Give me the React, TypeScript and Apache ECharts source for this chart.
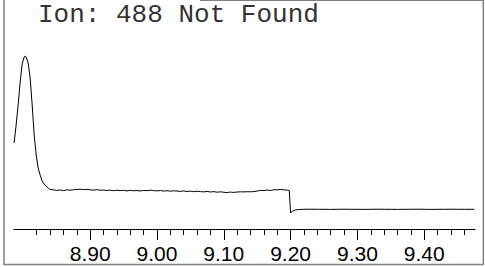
import React, { useEffect, useRef } from "react";
import * as echarts from "echarts";

const titleText = "Ion: 488 Not Found";

const majorTicks = [8.9, 9.0, 9.1, 9.2, 9.3, 9.4];
const minorTicks = [
  8.82, 8.84, 8.86, 8.88, 8.92, 8.94, 8.96, 8.98, 9.02, 9.04, 9.06, 9.08,
  9.12, 9.14, 9.16, 9.18, 9.22, 9.24, 9.26, 9.28, 9.32, 9.34, 9.36, 9.38,
  9.42, 9.44, 9.46,
];

const times = [
  8.7862, 8.7892, 8.7922, 8.7952, 8.7982, 8.8012, 8.8027, 8.8042, 8.8072,
  8.8102, 8.8132, 8.8162, 8.8192, 8.8222, 8.8251, 8.8281, 8.8311, 8.8341,
  8.8371, 8.8401,
  8.845, 8.85, 8.855, 8.86, 8.865, 8.87, 8.875, 8.88, 8.885, 8.89, 8.895,
  8.9, 8.905, 8.91, 8.915, 8.92, 8.925, 8.93, 8.935, 8.94, 8.945, 8.95,
  8.955, 8.96, 8.965, 8.97, 8.975, 8.98, 8.985, 8.99, 8.995, 9.0, 9.005,
  9.01, 9.015, 9.02, 9.025, 9.03, 9.035, 9.04, 9.045, 9.05, 9.055, 9.06,
  9.065, 9.07, 9.075, 9.08, 9.085, 9.09, 9.095, 9.1, 9.105, 9.11, 9.115,
  9.12, 9.125, 9.13, 9.135, 9.14, 9.145, 9.15, 9.155, 9.16, 9.165, 9.17,
  9.175, 9.18, 9.185, 9.19, 9.195, 9.198,
  9.2, 9.203, 9.207, 9.212, 9.22, 9.23, 9.24, 9.25, 9.26, 9.27, 9.28, 9.29,
  9.3, 9.31, 9.32, 9.33, 9.34, 9.35, 9.36, 9.37, 9.38, 9.39, 9.4, 9.41,
  9.42, 9.43, 9.44, 9.45, 9.46, 9.47, 9.475,
];

const intensity = [
  860, 1040, 1240, 1470, 1650, 1720, 1730, 1720, 1660, 1510, 1240, 940, 740,
  610, 540, 480, 450, 430, 410, 395,
  392, 386, 390, 384, 391, 388, 393, 395, 398, 394, 396, 392, 389, 393, 387,
  390, 385, 389, 383, 388, 384, 386, 381, 387, 382, 385, 380, 386, 383, 388,
  384, 381, 385, 379, 383, 378, 382, 380, 376, 381, 375, 379, 373, 378, 374,
  371, 376, 370, 374, 368, 372, 367, 365, 369, 366, 370, 372, 371, 373, 372,
  374, 380, 386, 384, 390, 385, 393, 391, 396, 392, 388, 384,
  160, 180, 190, 195, 197, 198, 197, 197, 196, 197, 198, 197, 197, 196, 197,
  198, 197, 197, 196, 197, 197, 198, 197, 196, 197, 197, 198, 197, 197, 197,
  197,
];

export default function App() {
  const ref = useRef<HTMLDivElement>(null);
  useEffect(() => {
    if (!ref.current) return;
    const chart = echarts.init(ref.current, undefined, { renderer: "svg" });
    const data = times.map((t, i) => [t, intensity[i]]);
    const xMin = 8.786;
    const xMax = 9.476;
    chart.setOption({
      animation: false,
      backgroundColor: "#ffffff",
      grid: { left: 14, right: 10, top: 29, bottom: 38 },
      xAxis: [
        {
          type: "value",
          min: xMin,
          max: xMax,
          position: "bottom",
          splitLine: { show: false },
          axisLine: { show: true, lineStyle: { color: "#000", width: 1 } },
          axisTick: {
            show: true,
            length: 11,
            customValues: majorTicks,
            lineStyle: { color: "#000", width: 1 },
          },
          axisLabel: {
            show: true,
            customValues: majorTicks,
            formatter: (v: number) => v.toFixed(2),
            fontSize: 21,
            fontFamily: "Liberation Sans, Arial, sans-serif",
            color: "#000",
            margin: 14,
          },
        },
        {
          type: "value",
          min: xMin,
          max: xMax,
          position: "bottom",
          splitLine: { show: false },
          axisLine: { show: false },
          axisTick: {
            show: true,
            length: 6,
            customValues: minorTicks,
            lineStyle: { color: "#000", width: 1 },
          },
          axisLabel: { show: false },
        },
      ],
      yAxis: {
        type: "value",
        min: 0,
        max: 2000,
        show: false,
        splitLine: { show: false },
      },
      series: [
        {
          type: "line",
          xAxisIndex: 0,
          data,
          showSymbol: false,
          symbol: "none",
          lineStyle: { color: "#000", width: 1 },
        },
      ],
      graphic: [
        {
          type: "text",
          left: 38,
          top: 2,
          style: {
            text: titleText,
            font: "26px 'Liberation Mono', 'Courier New', monospace",
            fill: "#333",
          },
        },
        {
          type: "line",
          shape: { x1: 4, y1: 0, x2: 4, y2: 265 },
          style: { stroke: "#808080", lineWidth: 1.5 },
        },
        {
          type: "line",
          shape: { x1: 4, y1: 264.5, x2: 483.5, y2: 264.5 },
          style: { stroke: "#808080", lineWidth: 1.5 },
        },
        {
          type: "line",
          shape: { x1: 483.3, y1: 0, x2: 483.3, y2: 265 },
          style: { stroke: "#808080", lineWidth: 1.5 },
        },
        {
          type: "line",
          shape: { x1: 200, y1: 0.5, x2: 483.5, y2: 0.5 },
          style: { stroke: "#808080", lineWidth: 1 },
        },
      ],
    });
    return () => chart.dispose();
  }, []);
  return (
    <div
      ref={ref}
      style={{ position: "absolute", left: 0, top: 0, width: 485, height: 267 }}
    />
  );
}
